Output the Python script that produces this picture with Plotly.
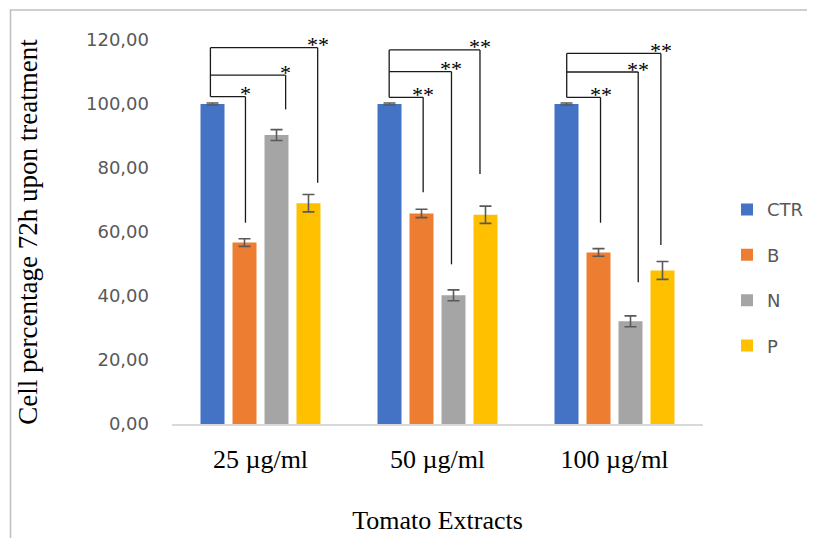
import plotly.graph_objects as go

# ---------------- data ----------------
categories = ["25 µg/ml", "50 µg/ml", "100 µg/ml"]
series_names = ["CTR", "B", "N", "P"]
ctr_vals = [100.0, 100.0, 100.0]
ctr_err = [0.3, 0.3, 0.3]
b_vals = [56.7, 65.8, 53.6]
b_err = [1.2, 1.3, 1.2]
n_vals = [90.3, 40.2, 32.1]
n_err = [1.7, 1.7, 1.7]
p_vals = [69.0, 65.4, 48.0]
p_err = [2.7, 2.7, 2.8]
y_ticks = [0, 20, 40, 60, 80, 100, 120]
y_tick_labels = ["0,00", "20,00", "40,00", "60,00", "80,00", "100,00", "120,00"]

# significance brackets (per concentration group, for B, N, P vs CTR)
sig_labels = [["*", "*", "**"], ["**", "**", "**"], ["**", "**", "**"]]
sig_level = [[102.3, 109.0, 117.6], [102.1, 110.1, 116.9], [102.1, 110.0, 115.8]]
sig_drop = [[62.9, 98.3, 75.4], [72.4, 49.9, 78.1], [62.9, 44.3, 55.9]]
sig_end_off = [[-0.085, 0.142, 0.323], [-0.081, 0.079, 0.240], [-0.079, 0.134, 0.262]]
sig_start_off = [-0.283, -0.273, -0.270]

colors = ["#4472C4", "#ED7D31", "#A5A5A5", "#FFC000"]
values = [ctr_vals, b_vals, n_vals, p_vals]
errors = [ctr_err, b_err, n_err, p_err]
xpos = list(range(len(categories)))

fig = go.Figure()
for i, name in enumerate(series_names):
    fig.add_trace(go.Bar(
        x=xpos, y=values[i], name=name, legendgroup=name,
        marker=dict(color=colors[i], line=dict(width=0)),
        error_y=dict(type="data", array=errors[i], visible=True,
                     color="#595959", thickness=1.6, width=6),
    ))

line_style = dict(color="#1a1a1a", width=1.3)
shapes = []
annotations = []
for g in range(len(categories)):
    x_start = g + sig_start_off[g]
    top = max(sig_level[g])
    shapes.append(dict(type="line", xref="x", yref="y", x0=x_start, x1=x_start,
                       y0=min(sig_level[g]), y1=top, line=line_style))
    for k in range(3):
        x_end = g + sig_end_off[g][k]
        lvl = sig_level[g][k]
        shapes.append(dict(type="line", xref="x", yref="y", x0=x_start, x1=x_end,
                           y0=lvl, y1=lvl, line=line_style))
        shapes.append(dict(type="line", xref="x", yref="y", x0=x_end, x1=x_end,
                           y0=lvl, y1=sig_drop[g][k], line=line_style))
        annotations.append(dict(x=x_end, y=lvl, xref="x", yref="y", text=sig_labels[g][k],
                                showarrow=False, xanchor="center", yanchor="middle", yshift=3,
                                font=dict(family="Liberation Serif", size=22, color="#000000")))

# page body has an 8px margin, so the figure is drawn 8px smaller and offset
W, H = 807, 530
ML, MR, MT, MB = 164, 112, 32, 114
pw, ph = W - ML - MR, H - MT - MB
# outer chart frame (grey border at top and left)
shapes.append(dict(type="rect", xref="paper", yref="paper",
                   x0=(2.5 - ML) / pw, x1=(W + 20 - ML) / pw,
                   y0=-(MB + 20) / ph, y1=1 + (MT - 2) / ph,
                   line=dict(color="#c0c0c0", width=1.6), fillcolor="rgba(0,0,0,0)", layer="below"))

fig.update_layout(
    width=W, height=H,
    margin=dict(l=ML, r=MR, t=MT, b=MB, autoexpand=False),
    paper_bgcolor="white", plot_bgcolor="white",
    barmode="group", bargap=0.277, bargroupgap=0.25,
    showlegend=True,
    legend=dict(x=(727 - 8 - ML) / pw, xanchor="left", y=0.381, yanchor="middle",
                traceorder="grouped", tracegroupgap=19,
                font=dict(family="DejaVu Sans", size=18, color="#595959"),
                bgcolor="rgba(0,0,0,0)"),
    xaxis=dict(range=[-0.5, 2.5], tickmode="array", tickvals=xpos, ticktext=categories,
               showline=True, linecolor="#d9d9d9", linewidth=1.5, ticks="",
               showgrid=False, zeroline=False, ticklabelstandoff=11, automargin=False,
               tickfont=dict(family="Liberation Serif", size=26, color="#000000"),
               title=dict(text="Tomato Extracts", standoff=38,
                          font=dict(family="Liberation Serif", size=26, color="#000000"))),
    yaxis=dict(range=[0, 120], tickmode="array", tickvals=y_ticks, ticktext=y_tick_labels,
               showline=False, showgrid=False, zeroline=False, ticks="",
               ticklabelstandoff=22, automargin=False,
               tickfont=dict(family="DejaVu Sans", size=18, color="#595959"),
               title=dict(text="Cell percentage 72h upon treatment", standoff=40,
                          font=dict(family="Liberation Serif", size=27, color="#000000"))),
    shapes=shapes,
    annotations=annotations,
)

fig.write_html("out.html")
